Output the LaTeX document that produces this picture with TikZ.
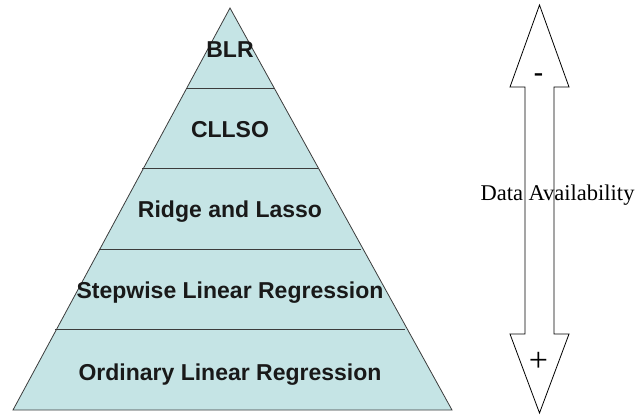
\documentclass[tikz,border=0pt]{standalone}
\usepackage{fontspec}
\setmainfont{Liberation Sans}
\newfontfamily\timesface{Liberation Serif}
\definecolor{tier}{RGB}{197,228,229}
\definecolor{edge}{RGB}{60,60,60}

\begin{document}
\begin{tikzpicture}[x=1pt, y=-1pt,
    tierlabel/.style={anchor=base, font=\fontsize{23}{23}\selectfont\bfseries, text=black!90},
    sidelabel/.style={anchor=base, font=\timesface\fontsize{22.5}{22.5}\selectfont}]
      \useasboundingbox (0,0) rectangle (636,415);

      % Pyramid
      \coordinate (apex) at (230,8);
      \coordinate (baseL) at (13,410);
      \coordinate (baseR) at (452,410);
      \draw[edge, fill=tier, line width=0.8pt] (apex) -- (baseL) -- (baseR) -- cycle;

      % Tier borders
      \draw[edge, line width=0.8pt] (186.2,88.4) -- (273.8,88.4);
      \draw[edge, line width=0.8pt] (142.4,168.8) -- (317.6,168.8);
      \draw[edge, line width=0.8pt] (98.6,249.2) -- (361.4,249.2);
      \draw[edge, line width=0.8pt] (54.8,329.6) -- (405.2,329.6);

      % Tiers
      \node[tierlabel] (blr) at (230,57) {BLR};
      \node[tierlabel] (cllso) at (230,137) {CLLSO};
      \node[tierlabel] (ridge) at (230,217.5) {Ridge and Lasso};
      \node[tierlabel] (stepwise) at (230,298) {Stepwise Linear Regression};
      \node[tierlabel] (ordinary) at (230,380) {Ordinary Linear Regression};

      % Double arrow
      \draw[black, line width=0.8pt] (539.5,5) -- (569,87) -- (554,87) -- (554,334) -- (569,334)
        -- (539.5,413) -- (510,334) -- (525,334) -- (525,87) -- (510,87) -- cycle;

      % Arrow labels
      \node[anchor=center, font=\timesface\bfseries\fontsize{28}{28}\selectfont] (less) at (538.5,78) {-};
      \node[anchor=center, font=\timesface\fontsize{34}{34}\selectfont] (more) at (538.5,362) {+};
      \node[sidelabel] (avail) at (557.5,200) {Data Availability};
    \end{tikzpicture}
\end{document}
